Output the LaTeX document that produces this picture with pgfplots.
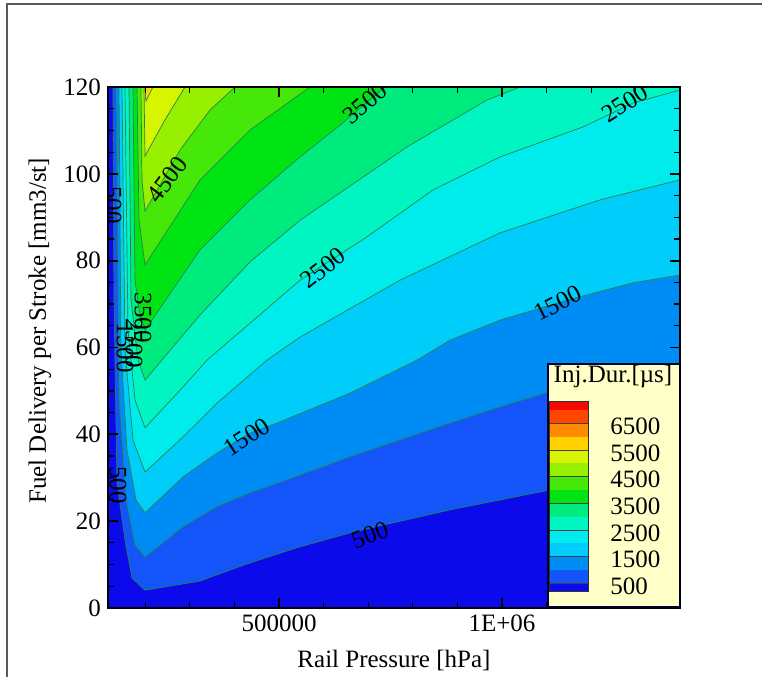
\documentclass[border=0pt]{standalone}
\usepackage{fontspec}
\setmainfont{Liberation Serif}
\usepackage{pgfplots}
\pgfplotsset{compat=1.18}

\definecolor{c0}{RGB}{10,10,235}
\definecolor{c1}{RGB}{20,85,250}
\definecolor{c2}{RGB}{0,140,245}
\definecolor{c3}{RGB}{0,205,250}
\definecolor{c4}{RGB}{0,235,235}
\definecolor{c5}{RGB}{0,245,195}
\definecolor{c6}{RGB}{0,235,125}
\definecolor{c7}{RGB}{0,228,20}
\definecolor{c8}{RGB}{70,232,10}
\definecolor{c9}{RGB}{150,240,0}
\definecolor{c10}{RGB}{215,245,0}
\definecolor{c11}{RGB}{255,210,0}
\definecolor{c12}{RGB}{255,140,0}
\definecolor{c13}{RGB}{255,70,0}
\definecolor{c14}{RGB}{245,10,0}
\definecolor{cline}{RGB}{40,130,70}
\definecolor{legbg}{RGB}{255,255,200}

\newcommand\lab{\fontsize{12.5pt}{15pt}\selectfont}

\begin{document}
\begin{tikzpicture}
\useasboundingbox (0,0) rectangle (381pt,338.5pt);
\draw[line width=1pt, black!65] (3.5pt,0) -- (3.5pt,336.5pt) -- (381pt,336.5pt);

\begin{axis}[
  at={(54pt,34.5pt)}, anchor=south west,
  scale only axis, width=286pt, height=260.5pt,
  xmin=116600, xmax=1399000, ymin=0, ymax=120,
  xtick={500000,1000000}, xticklabels={500000,1E+06},
  minor xtick={200000,300000,400000,600000,700000,800000,900000,1100000,1200000,1300000},
  ytick={0,20,40,60,80,100,120}, minor y tick num=3,
  scaled x ticks=false,
  tick align=inside,
  major tick length=5pt, minor tick length=3pt,
  tick style={black, line width=0.9pt},
  minor tick style={line width=0.6pt},
  axis line style={line width=1.2pt},
  axis on top,
  axis background/.style={fill=c0},
  tick label style={font=\lab},
  label style={font=\lab},
  /pgf/number format/assume math mode=true,
  xlabel={Rail Pressure [hPa]},
  ylabel={Fuel Delivery per Stroke [mm3/st]},
  x label style={at={(axis description cs:0.5,-0.1)}, anchor=center},
  y label style={at={(axis description cs:-0.119,0.532)}, anchor=center},
  iso/.style={draw=cline, line width=0.35pt},
]

% region >= 500
\addplot[iso, fill=c1] coordinates {(127800,120) (130000,70.9) (136800,28.8) (154700,15.7) (170400,6.9) (199600,4.1)
  (322900,6.2) (340800,6.9) (435000,10.4) (547100,14.1) (659200,17.3) (733200,19.1) (883400,22.6)
  (995500,24.9) (1107600,27.2) (1399000,33.2) (1399000,120)} -- cycle;
% region >= 1000
\addplot[iso, fill=c2] coordinates {(134500,120) (141300,47.9) (157000,24.9) (177100,14.5) (199600,11.7)
  (284800,18.7) (361000,23.3) (435000,26.5) (547100,30.6) (659200,34.8) (771300,38.7) (883400,42.6)
  (995500,46.3) (1107600,49.8) (1399000,56.7) (1399000,120)} -- cycle;
% region >= 1500
\addplot[iso, fill=c3] coordinates {(141300,120) (145700,59.4) (159200,36.4) (179400,24.9) (199600,21.9)
  (284800,30.2) (361000,35.7) (435000,40.3) (495500,42.6) (659200,49.5) (809400,57.1) (883400,61.7)
  (995500,66.3) (1145700,70.9) (1293700,74.9) (1399000,76.7) (1399000,120)} -- cycle;
% region >= 2000
\addplot[iso, fill=c4] coordinates {(148000,120) (154700,59.4) (172700,38.7) (199600,31.3)
  (284800,39.4) (361000,47.2) (473100,57.1) (547100,62.4) (771300,75.5) (995500,86.4)
  (1219700,94.0) (1399000,98.6) (1399000,120)} -- cycle;
% region >= 2500
\addplot[iso, fill=c5] coordinates {(154700,120) (161400,64.0) (177100,47.9) (199600,41.5)
  (284800,50.9) (338600,57.1) (547100,75.5) (697300,85.5) (845300,96.3) (995500,103.9)
  (1181600,110.8) (1293700,116.3) (1399000,119.3) (1399000,120)} -- cycle;
% region >= 3000
\addplot[iso, fill=c6] coordinates {(163700,120) (168200,70.9) (183900,57.1) (199600,52.5)
  (322900,67.5) (435000,79.7) (547100,89.3) (787000,106.2) (966300,117.0) (1040300,120)} -- cycle;
% region >= 3500
\addplot[iso, fill=c7] coordinates {(172700,120) (177100,75.5) (188300,67.5) (199600,64.0)
  (322900,82.5) (435000,94.0) (547100,103.9) (636700,111.2) (737600,120)} -- cycle;
% region >= 4000
\addplot[iso, fill=c8] coordinates {(181600,120) (186100,89.4) (199600,79.0)
  (322900,98.6) (435000,110.1) (569500,120)} -- cycle;
% region >= 4500
\addplot[iso, fill=c9] coordinates {(190600,120) (192800,98.6) (199600,91.4)
  (278200,105.5) (345300,114.7) (401300,120)} -- cycle;
% region >= 5000
\addplot[iso, fill=c10] coordinates {(197300,120) (199600,104.1) (244200,112.4) (289200,120)} -- cycle;
% region >= 5500
\addplot[iso, fill=c11] coordinates {(199000,120) (201800,116.8) (217300,120)} -- cycle;

% contour labels
\node[font=\lab, rotate=40] at (axis cs:692800,116.3) {3500};
\node[font=\lab, rotate=32] at (axis cs:1275700,116.3) {2500};
\node[font=\lab, rotate=53] at (axis cs:248900,98.6) {4500};
\node[font=\lab, rotate=38] at (axis cs:598600,78.3) {2500};
\node[font=\lab, rotate=27] at (axis cs:1125500,70.2) {1500};
\node[font=\lab, rotate=33] at (axis cs:428200,39.4) {1500};
\node[font=\lab, rotate=20] at (axis cs:704000,16.8) {500};
\node[font=\lab, rotate=-90] at (axis cs:127800,92.8) {500};
\node[font=\lab, rotate=-90] at (axis cs:139000,28.3) {500};
\node[font=\lab, rotate=-90] at (axis cs:195000,66.8) {3500};
\node[font=\lab, rotate=-90] at (axis cs:174900,61.0) {2500};
\node[font=\lab, rotate=-90] at (axis cs:154700,59.9) {1500};
\end{axis}

% colour legend
\draw[fill=legbg, draw=black!85!blue, line width=1pt] (274pt,35pt) rectangle (340pt,156.5pt);
\foreach \c/\lo/\hi in {c0/43/46.85, c1/46.85/53.52, c2/53.52/60.18, c3/60.18/66.85,
    c4/66.85/73.51, c5/73.51/80.18, c6/80.18/86.84, c7/86.84/93.51, c8/93.51/100.17,
    c9/100.17/106.84, c10/106.84/113.5, c11/113.5/120.17, c12/120.17/126.83,
    c13/126.83/133.5, c14/133.5/137.65}
  \fill[\c] (274.5pt,\lo pt) rectangle (294pt,\hi pt);
\foreach \y in {46.85,60.18,73.51,86.84,100.17,113.5,126.83}
  \draw[black!75, line width=0.4pt] (274.5pt,\y pt) -- (294pt,\y pt);
\draw[black!80, line width=0.5pt] (274.5pt,43pt) rectangle (294pt,137.65pt);
\node[font=\lab] at (306.5pt,150.5pt) {Inj.Dur.[µs]};
\foreach \y/\t in {46.85/500, 60.18/1500, 73.51/2500, 86.84/3500, 100.17/4500, 113.5/5500, 126.83/6500}
  \node[font=\lab, anchor=west, inner sep=0pt] at (305pt,\y pt-1.5pt) {\t};
\end{tikzpicture}
\end{document}
